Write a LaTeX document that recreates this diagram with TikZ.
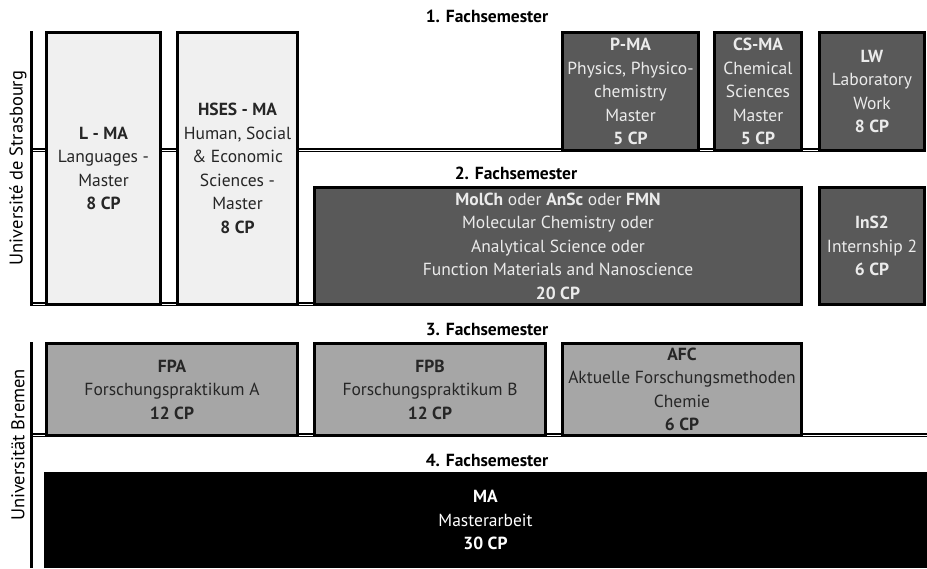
\documentclass[tikz,border=0pt]{standalone}
\usepackage{fontspec}
\setmainfont{PT Sans}
\definecolor{lightfill}{HTML}{F0F0F0}
\definecolor{darkfill}{HTML}{595959}
\definecolor{midfill}{HTML}{A6A6A6}

\begin{document}
\begin{tikzpicture}[x=1pt,y=-1pt,
  modbox/.style={draw=black,line width=3pt,inner sep=0pt,align=center,
    text=black!85,font=\fontsize{17.5}{23.5}\selectfont},
  lightbox/.style={modbox,fill=lightfill},
  darkbox/.style={modbox,fill=darkfill,text=white!92!black},
  midbox/.style={modbox,fill=midfill},
  thesisbox/.style={modbox,draw=none,fill=black,text=white},
  semlabel/.style={font=\fontsize{17.5}{20}\selectfont\bfseries},
  unilabel/.style={rotate=90,font=\fontsize{18.5}{20}\selectfont},
  unibar/.style={line width=3pt},
  sepline/.style={double,double distance=1pt,line width=1.3pt,
    transform canvas={yshift=1.8pt}}]

  \useasboundingbox (0,0) rectangle (927,568);

  % Universite de Strasbourg
  \node[lightbox, minimum width=114, minimum height=272] (lma) at (103.5,168.5)
    {\textbf{L - MA}\\Languages -\\Master\\\textbf{8 CP}};
  \node[lightbox, minimum width=120, minimum height=272] (hses) at (237.5,168.5)
    {\textbf{HSES - MA}\\Human, Social\\\& Economic\\Sciences -\\Master\\\textbf{8 CP}};
  \node[darkbox, minimum width=136, minimum height=118] (pma) at (630.5,91.5)
    {\textbf{P-MA}\\Physics, Physico-\\chemistry\\Master\\\textbf{5 CP}};
  \node[darkbox, minimum width=87, minimum height=118] (csma) at (758,91.5)
    {\textbf{CS-MA}\\Chemical\\Sciences\\Master\\\textbf{5 CP}};
  \node[darkbox, minimum width=105, minimum height=118] (lw) at (872,91.5)
    {\textbf{LW}\\Laboratory\\Work\\\textbf{8 CP}};
  \node[darkbox, minimum width=487, minimum height=117] (molch) at (558,246)
    {\textbf{MolCh} oder \textbf{AnSc} oder \textbf{FMN}\\Molecular Chemistry oder\\
     Analytical Science oder\\Function Materials and Nanoscience\\\textbf{20 CP}};
  \node[darkbox, minimum width=105, minimum height=117] (ins) at (872,246)
    {\textbf{InS2}\\Internship 2\\\textbf{6 CP}};

  % Universitaet Bremen
  \node[midbox, minimum width=251, minimum height=92] (fpa) at (172,389.5)
    {\textbf{FPA}\\Forschungspraktikum A\\\textbf{12 CP}};
  \node[midbox, minimum width=231, minimum height=92] (fpb) at (430,389.5)
    {\textbf{FPB}\\Forschungspraktikum B\\\textbf{12 CP}};
  \node[midbox, minimum width=239, minimum height=92] (afc) at (682,389.5)
    {\textbf{AFC}\\Aktuelle Forschungsmethoden\\Chemie\\\textbf{6 CP}};
  \node[thesisbox, minimum width=883, minimum height=96] (ma) at (485.5,520)
    {\textbf{MA}\\Masterarbeit\\\textbf{30 CP}};

  % semester labels
  \node[semlabel] (sem1) at (487,16) {1. Fachsemester};
  \node[semlabel] (sem2) at (516,173) {2. Fachsemester};
  \node[semlabel] (sem3) at (487,329) {3. Fachsemester};
  \node[semlabel] (sem4) at (487,460) {4. Fachsemester};

  \node[unilabel] (stras) at (18,168) {Université de Strasbourg};
  \node[unilabel] (bremen) at (18,445) {Universität Bremen};

  \coordinate (stop) at (31.5,31);
  \coordinate (sbot) at (31.5,306);
  \coordinate (btop) at (31.5,342);
  \coordinate (bbot) at (31.5,568);
  \coordinate (redge) at (927,0);

  \draw[sepline]
    (stop |- pma.south) -- (lma.west |- pma.south)
    (lma.east |- pma.south) -- (hses.west |- pma.south)
    (hses.east |- pma.south) -- (pma.south west)
    (pma.south east) -- (csma.south west)
    (csma.south east) -- (lw.south west)
    (sbot) -- (lma.south west)
    (lma.south east) -- (hses.south west)
    (hses.south east) -- (molch.south west)
    (btop |- fpa.south) -- (fpa.south west)
    (fpa.south east) -- (fpb.south west)
    (fpb.south east) -- (afc.south west)
    (afc.south east) -- (afc.south east -| redge);

  \draw[unibar] (stop) -- (sbot);
  \draw[unibar] (btop) -- (bbot);

\end{tikzpicture}
\end{document}
